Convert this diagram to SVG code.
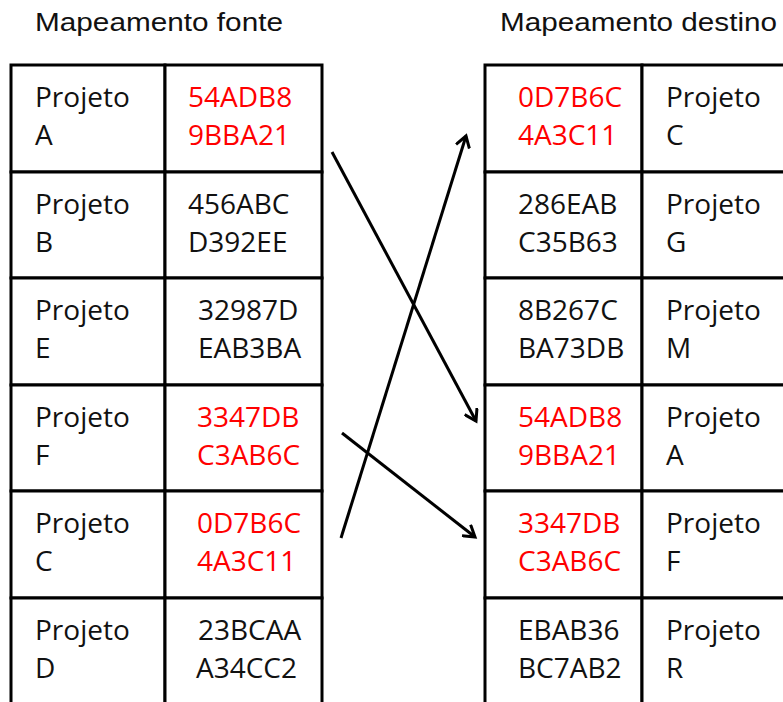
<svg xmlns="http://www.w3.org/2000/svg" width="783" height="702" viewBox="0 0 783 702">
<defs>
<style>
.cell{fill:#fff;stroke:#000;stroke-width:3}
.t{font-family:"Open Sans","Noto Sans","Liberation Sans",sans-serif;font-size:28px;fill:#111}
.r{fill:#ff0000}
.title{font-family:"Liberation Sans",sans-serif;font-size:26.5px;fill:#111}
.conn{stroke:#000;stroke-width:3;fill:none;marker-end:url(#ah)}
</style>
<marker id="ah" markerWidth="16" markerHeight="16" refX="12" refY="8" orient="auto" markerUnits="userSpaceOnUse">
<path d="M1,1 L12,8 L1,15" fill="none" stroke="#000" stroke-width="3"/>
</marker>
</defs>
<rect width="783" height="702" fill="#fff"/>
<text class="title" x="35" y="31" textLength="248" lengthAdjust="spacingAndGlyphs">Mapeamento fonte</text>
<text class="title" x="500" y="31" textLength="277" lengthAdjust="spacingAndGlyphs">Mapeamento destino</text>

<g id="fonte">
<g id="f1"><rect class="cell" x="11" y="65" width="154" height="107"/><rect class="cell" x="165" y="65" width="157" height="107"/>
<text class="t" x="35" y="107">Projeto</text><text class="t" x="35" y="145">A</text>
<text class="t r" x="188" y="107">54ADB8</text><text class="t r" x="188" y="145">9BBA21</text></g>
<g id="f2"><rect class="cell" x="11" y="172" width="154" height="106"/><rect class="cell" x="165" y="172" width="157" height="106"/>
<text class="t" x="35" y="214">Projeto</text><text class="t" x="35" y="252">B</text>
<text class="t" x="188" y="214">456ABC</text><text class="t" x="188" y="252">D392EE</text></g>
<g id="f3"><rect class="cell" x="11" y="278" width="154" height="107"/><rect class="cell" x="165" y="278" width="157" height="107"/>
<text class="t" x="198" y="320">32987D</text><text class="t" x="198" y="358">EAB3BA</text>
<text class="t" x="35" y="320">Projeto</text><text class="t" x="35" y="358">E</text></g>
<g id="f4"><rect class="cell" x="11" y="385" width="154" height="106"/><rect class="cell" x="165" y="385" width="157" height="106"/>
<text class="t" x="35" y="427">Projeto</text><text class="t" x="35" y="465">F</text>
<text class="t r" x="197" y="427">3347DB</text><text class="t r" x="197" y="465">C3AB6C</text></g>
<g id="f5"><rect class="cell" x="11" y="491" width="154" height="107"/><rect class="cell" x="165" y="491" width="157" height="107"/>
<text class="t" x="35" y="533">Projeto</text><text class="t" x="35" y="571">C</text>
<text class="t r" x="197" y="533">0D7B6C</text><text class="t r" x="197" y="571">4A3C11</text></g>
<g id="f6"><rect class="cell" x="11" y="598" width="154" height="110"/><rect class="cell" x="165" y="598" width="157" height="110"/>
<text class="t" x="35" y="640">Projeto</text><text class="t" x="35" y="678">D</text>
<text class="t" x="198" y="640">23BCAA</text><text class="t" x="196" y="678">A34CC2</text></g>
</g>

<g id="destino">
<g id="d1"><rect class="cell" x="485" y="65" width="157" height="107"/><rect class="cell" x="642" y="65" width="160" height="107"/>
<text class="t r" x="518" y="107">0D7B6C</text><text class="t r" x="518" y="145">4A3C11</text>
<text class="t" x="666" y="107">Projeto</text><text class="t" x="666" y="145">C</text></g>
<g id="d2"><rect class="cell" x="485" y="172" width="157" height="106"/><rect class="cell" x="642" y="172" width="160" height="106"/>
<text class="t" x="518" y="214">286EAB</text><text class="t" x="518" y="252">C35B63</text>
<text class="t" x="666" y="214">Projeto</text><text class="t" x="666" y="252">G</text></g>
<g id="d3"><rect class="cell" x="485" y="278" width="157" height="107"/><rect class="cell" x="642" y="278" width="160" height="107"/>
<text class="t" x="518" y="320">8B267C</text><text class="t" x="518" y="358">BA73DB</text>
<text class="t" x="666" y="320">Projeto</text><text class="t" x="666" y="358">M</text></g>
<g id="d4"><rect class="cell" x="485" y="385" width="157" height="106"/><rect class="cell" x="642" y="385" width="160" height="106"/>
<text class="t r" x="518" y="427">54ADB8</text><text class="t r" x="518" y="465">9BBA21</text>
<text class="t" x="666" y="427">Projeto</text><text class="t" x="666" y="465">A</text></g>
<g id="d5"><rect class="cell" x="485" y="491" width="157" height="107"/><rect class="cell" x="642" y="491" width="160" height="107"/>
<text class="t r" x="518" y="533">3347DB</text><text class="t r" x="518" y="571">C3AB6C</text>
<text class="t" x="666" y="533">Projeto</text><text class="t" x="666" y="571">F</text></g>
<g id="d6"><rect class="cell" x="485" y="598" width="157" height="110"/><rect class="cell" x="642" y="598" width="160" height="110"/>
<text class="t" x="518" y="640">EBAB36</text><text class="t" x="518" y="678">BC7AB2</text>
<text class="t" x="666" y="640">Projeto</text><text class="t" x="666" y="678">R</text></g>
</g>

<g id="connectors">
<line class="conn" x1="332" y1="152" x2="476" y2="421"/>
<line class="conn" x1="341" y1="538" x2="466" y2="136"/>
<line class="conn" x1="342" y1="433" x2="475" y2="537"/>
</g>
</svg>
